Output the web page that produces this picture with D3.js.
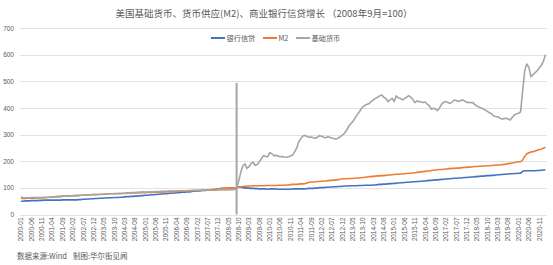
<!DOCTYPE html>
<html>
<head>
<meta charset="utf-8">
<script src="https://cdn.jsdelivr.net/npm/d3@7"></script>
<style>
  body { margin: 0; background: #fff; font-family: "Noto Sans CJK SC", "Noto Sans", sans-serif; }
  .grid line { stroke: #d9d9d9; stroke-width: 0.75; shape-rendering: crispEdges; }
  .grid path { stroke-width: 0; }
  .axis text { fill: #595959; font-size: 6.5px; }
  .axis path, .axis line { stroke: none; }
</style>
</head>
<body>
<script>
// months 2000-01 .. 2021-02
var months = [];
for (var yr = 2000; yr <= 2021; yr++) {
  for (var mo = 1; mo <= 12; mo++) {
    if (yr === 2021 && mo > 2) break;
    months.push(yr + "-" + (mo < 10 ? "0" + mo : mo));
  }
}

var seriesNames = ["银行信贷", "M2", "基础货币"];
var seriesColors = ["#4472c4", "#ed7d31", "#a5a5a5"];

// 银行信贷 (2008-09 = 100)
var credit = [
  50,50,51,51,51,52,52,52,52,53,53,54,
  54,54,54,54,54,54,54,54,55,55,55,55,
  55,55,55,55,56,56,57,57,58,58,59,59,
  60,60,61,61,62,62,63,63,63,64,64,64,
  65,65,66,67,67,68,68,69,69,70,71,71,
  72,72,73,74,74,75,76,76,77,78,78,79,
  80,80,81,82,82,83,84,84,85,85,86,87,
  87,88,88,89,90,90,91,92,93,94,95,96,
  97,98,98,98,99,99,99,99,100,103,102,101,
  100,99,99,98,98,97,97,96,96,96,96,95,
  96,96,96,96,95,95,95,95,95,95,95,96,
  96,96,96,96,96,96,97,98,98,98,99,99,
  101,101,101,102,102,103,103,104,104,105,105,106,
  107,107,107,108,108,108,108,109,109,109,110,110,
  110,110,111,111,112,113,113,114,114,115,116,116,
  117,117,118,119,119,120,121,121,122,123,123,124,
  124,125,126,126,127,128,128,129,130,130,131,132,
  132,133,134,134,135,136,136,137,137,138,139,139,
  140,141,141,142,142,143,144,144,145,146,146,147,
  147,148,149,149,150,151,151,152,153,153,154,154,
  155,155,162,164,164,164,164,164,164,165,165,166,
  167,168
];

// M2 (2008-09 = 100)
var m2 = [
  60,60,60,61,61,61,61,61,62,62,62,63,
  63,64,65,66,66,67,67,68,69,69,69,70,
  70,70,71,71,71,72,72,73,73,73,74,74,
  74,75,75,75,76,76,77,78,78,78,78,78,
  78,79,79,80,80,80,81,81,81,82,82,82,
  82,83,83,83,83,84,84,84,84,85,85,86,
  86,86,86,86,87,87,88,88,88,89,89,90,
  90,91,91,92,92,92,93,93,94,94,95,96,
  96,97,98,99,99,99,99,99,100,102,103,105,
  106,106,107,107,108,108,108,108,108,108,109,109,
  109,109,109,109,110,110,110,110,111,111,112,113,
  113,113,114,115,115,116,118,121,122,122,123,124,
  124,125,126,126,127,128,128,129,130,131,132,134,
  134,134,135,135,135,136,137,137,138,139,140,141,
  142,142,143,144,145,145,146,146,147,148,148,149,
  150,151,151,152,152,153,154,155,155,156,157,158,
  159,160,161,162,163,163,165,166,167,168,169,169,
  170,171,172,172,173,173,174,174,175,176,177,177,
  178,178,179,180,180,181,181,182,182,183,183,184,
  185,185,186,186,187,188,189,191,192,193,195,196,
  198,198,205,218,228,232,235,236,238,241,244,245,
  249,252
];

// 基础货币 (2008-09 = 100)
var base = [
  66,63,63,63,63,64,64,64,64,64,64,65,
  65,65,65,66,66,67,67,67,68,69,70,71,
  70,70,71,71,72,72,72,73,73,74,74,76,
  75,75,76,76,77,77,78,78,78,79,79,80,
  80,80,80,81,81,82,82,82,83,83,84,85,
  84,84,85,85,85,86,86,86,87,87,87,88,
  88,88,88,88,89,89,89,89,89,90,90,91,
  90,90,90,91,91,91,91,91,91,91,91,92,
  92,92,92,92,92,93,93,93,100,125,158,183,
  190,173,180,192,196,184,188,198,210,221,218,217,
  232,228,221,222,220,217,218,216,215,217,220,223,
  235,250,273,285,295,297,293,290,291,288,286,290,
  296,294,290,288,292,290,286,285,283,287,292,298,
  305,315,330,340,348,360,373,383,395,405,410,414,
  417,425,430,436,440,445,449,440,436,424,430,436,
  424,445,438,436,430,435,440,446,440,432,420,426,
  424,422,420,422,414,408,395,399,396,390,402,415,
  422,424,420,417,422,430,428,424,428,430,426,421,
  421,420,420,412,407,403,400,396,392,387,382,378,
  370,368,367,362,358,360,361,358,355,365,374,378,
  380,385,465,540,565,552,517,525,532,540,550,560,
  575,600
];

var yTicks = [0, 100, 200, 300, 400, 500, 600, 700];
var markMonth = "2008-09", markTop = 494;

var W = 553, H = 265;
var svg = d3.select("body").append("svg").attr("width", W).attr("height", H);

var x = d3.scaleBand().domain(months).range([20, 546.5]).paddingInner(0);
var y = d3.scaleLinear().domain([0, 700]).range([214.5, 28]);
function cx(m) { return x(m) + x.bandwidth() / 2; }

// grid
svg.append("g")
  .attr("class", "grid")
  .attr("transform", "translate(20,0)")
  .call(d3.axisLeft(y).tickValues(yTicks).tickSize(-526.5).tickFormat(""));

// y labels
svg.append("g")
  .attr("class", "axis")
  .attr("transform", "translate(16,0)")
  .call(d3.axisLeft(y).tickValues(yTicks).tickSize(0).tickPadding(2));

// x labels
var xAxis = svg.append("g")
  .attr("class", "axis")
  .attr("transform", "translate(0,214.5)")
  .call(d3.axisBottom(x).tickValues(months.filter(function(d, i) { return i % 5 === 0; })).tickSize(0));
xAxis.selectAll("text")
  .attr("transform", "rotate(-90)")
  .attr("x", -3)
  .attr("y", 0)
  .attr("dy", "0.35em")
  .style("text-anchor", "end");

// marker line at 2008-09
svg.append("line")
  .attr("x1", cx(markMonth)).attr("x2", cx(markMonth))
  .attr("y1", y(markTop)).attr("y2", y(0))
  .attr("stroke", "#a5a5a5").attr("stroke-width", 2);

var line = d3.line()
  .x(function(d, i) { return cx(months[i]); })
  .y(function(d) { return y(d); });

[credit, m2, base].forEach(function(s, k) {
  svg.append("path")
    .datum(s)
    .attr("fill", "none")
    .attr("stroke", seriesColors[k])
    .attr("stroke-width", 1.6)
    .attr("stroke-linejoin", "round")
    .attr("d", line);
});

// title
svg.append("text")
  .attr("x", 264).attr("y", 17)
  .attr("text-anchor", "middle")
  .style("font-size", "9.5px")
  .style("fill", "#595959")
  .text("美国基础货币、货币供应(M2)、商业银行信贷增长 （2008年9月=100）");

// legend
var legX = [211, 263, 296];
seriesNames.forEach(function(n, k) {
  svg.append("line")
    .attr("x1", legX[k]).attr("x2", legX[k] + 14)
    .attr("y1", 38).attr("y2", 38)
    .attr("stroke", seriesColors[k]).attr("stroke-width", 2);
  svg.append("text")
    .attr("x", legX[k] + 15.5).attr("y", 40.5)
    .style("font-size", "7.2px")
    .style("fill", "#595959")
    .text(n);
});

// footer
svg.append("text").attr("x", 17).attr("y", 258.5)
  .style("font-size", "7.5px").style("fill", "#595959").text("数据来源:Wind");
svg.append("text").attr("x", 73).attr("y", 258.5)
  .style("font-size", "7.5px").style("fill", "#595959").text("制图:华尔街见闻");
</script>
</body>
</html>
